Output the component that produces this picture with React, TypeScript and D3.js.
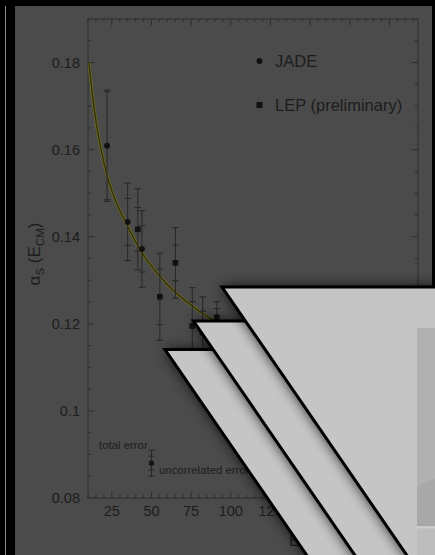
import React from "react";
import * as d3 from "d3";

// JADE measurements (circles)
const jadeEnergy = [22, 35, 44];
const jadeAlpha = [0.1609, 0.1434, 0.1372];
const jadeTotalErr = [0.0128, 0.0089, 0.0088];
const jadeUncorrErr = [0.0124, 0.0054, 0.0053];

// LEP preliminary measurements (squares)
const lepEnergy = [41.4, 55.3, 65.1, 75.7, 82.3, 91.2];
const lepAlpha = [0.1417, 0.1262, 0.134, 0.1195, 0.118, 0.1215];
const lepTotalErr = [0.0093, 0.01, 0.0081, 0.0088, 0.0082, 0.0036];
const lepUncorrErr = [0.005, 0.0064, 0.0041, 0.0056, 0.0049, 0.002];

// QCD running-coupling curve
const curveEnergy = [10.6, 13, 15.5, 18.2, 22, 26.4, 34.6, 43.4, 54.8, 64.8, 74.3, 85, 95];
const curveAlpha = [0.18, 0.172, 0.1655, 0.1601, 0.1541, 0.1492, 0.1427, 0.1367, 0.1311, 0.1273, 0.1245, 0.1217, 0.1197];

// Error-legend example point
const sampleEnergy = [50];
const sampleAlpha = [0.088];
const sampleTotalErr = [0.003];
const sampleUncorrErr = [0.0016];

const xTicks = [25, 50, 75, 100, 125, 150, 175, 200];
const yTicks = [0.08, 0.1, 0.12, 0.14, 0.16, 0.18];
const yTickLabels = ["0.08", "0.1", "0.12", "0.14", "0.16", "0.18"];

const W = 435;
const H = 555;
const FONT = "'Liberation Sans', Arial, Helvetica, sans-serif";
const INK = "#1d1d1d";
const AXIS = "#2f2f2f";
const CARD_SLOPE = 0.689;

const x = d3.scaleLinear().domain([10, 218]).range([88, 418]);
const y = d3.scaleLinear().domain([0.08, 0.19]).range([498, 19]);

function ErrorBar({ e, a, tot, unc }: { e: number; a: number; tot: number; unc: number }) {
  const cx = x(e);
  const cap = 3.3;
  return (
    <g stroke="#262626" strokeWidth={1}>
      <line x1={cx} x2={cx} y1={y(a - tot)} y2={y(a + tot)} />
      {[a - tot, a + tot, a - unc, a + unc].map((v, i) => (
        <line key={i} x1={cx - cap} x2={cx + cap} y1={y(v)} y2={y(v)} />
      ))}
    </g>
  );
}

function Card({ x0, y0 }: { x0: number; y0: number }) {
  const bottom = 800;
  const pts = `${x0},${y0} 700,${y0} 900,${bottom} ${x0 + (bottom - y0) * CARD_SLOPE},${bottom}`;
  return (
    <g>
      <polygon points={pts} fill="#000" opacity={0.9} filter="url(#cardShadow)" />
      <polygon points={pts} fill="#c5c5c5" stroke="#000" strokeWidth={3} strokeLinejoin="miter" />
    </g>
  );
}

export default function App() {
  const curve = d3
    .line<number>()
    .x((_, i) => x(curveEnergy[i]))
    .y((d) => y(d))
    .curve(d3.curveMonotoneX)(curveAlpha) as string;

  const minorX = d3.range(10, 219, 5);
  const minorY = d3.range(0.08, 0.1901, 0.005);

  return (
    <div style={{ position: "absolute", left: 0, top: 0 }}>
      <svg width={W} height={H} style={{ display: "block", fontFamily: FONT }}>
        <defs>
          <filter id="cardShadow" x="-30%" y="-30%" width="160%" height="160%">
            <feGaussianBlur stdDeviation={7} />
          </filter>
          <clipPath id="plotClip">
            <rect x={88} y={19} width={330} height={479} />
          </clipPath>
        </defs>

        {/* backdrop */}
        <rect x={0} y={0} width={W} height={H} fill="#000" />
        <line x1={5.5} x2={5.5} y1={6} y2={H} stroke="#8a8a8a" strokeWidth={1} />
        <rect x={15} y={6} width={417} height={H - 6} fill="#4b4b4b" />

        {/* frame */}
        <rect x={88} y={19} width={330} height={479} fill="none" stroke={AXIS} strokeWidth={1} />

        {/* minor + major ticks, inward on all four sides */}
        <g stroke={AXIS} strokeWidth={1}>
          {minorX.map((v) => {
            const major = v % 25 === 0;
            const len = major ? 6.5 : 3.2;
            return (
              <g key={`mx${v}`}>
                <line x1={x(v)} x2={x(v)} y1={498} y2={498 - len} />
                <line x1={x(v)} x2={x(v)} y1={19} y2={19 + len} />
              </g>
            );
          })}
          {minorY.map((v, i) => {
            const major = i % 4 === 0;
            const len = major ? 6.5 : 3.2;
            return (
              <g key={`my${i}`}>
                <line x1={88} x2={88 + len} y1={y(v)} y2={y(v)} />
                <line x1={418} x2={418 - len} y1={y(v)} y2={y(v)} />
              </g>
            );
          })}
        </g>

        {/* tick labels */}
        <g fill={INK} fontSize={14.5}>
          {yTicks.map((v, i) => (
            <text key={`yl${i}`} x={80} y={y(v) + 5} textAnchor="end">
              {yTickLabels[i]}
            </text>
          ))}
          {xTicks.map((v) => (
            <text key={`xl${v}`} x={x(v)} y={515.5} textAnchor="middle">
              {v}
            </text>
          ))}
        </g>

        {/* axis titles */}
        <text transform="translate(40,254) rotate(-90)" textAnchor="middle" fill={INK} fontSize={17}>
          α<tspan fontSize={11.5} dy={4}>S</tspan>
          <tspan dy={-4}> (E</tspan>
          <tspan fontSize={11.5} dy={4}>CM</tspan>
          <tspan dy={-4}>)</tspan>
        </text>
        <text x={289} y={546} fill={INK} fontSize={16}>
          E<tspan fontSize={11} dy={4}>CM</tspan>
          <tspan dy={-4}> [GeV]</tspan>
        </text>

        {/* running coupling */}
        <g clipPath="url(#plotClip)" fill="none">
          <path d={curve} stroke="#6b6820" strokeWidth={3} />
          <path d={curve} stroke="#302e0c" strokeWidth={1.3} />
        </g>

        {/* data */}
        {jadeEnergy.map((e, i) => (
          <g key={`j${i}`}>
            <ErrorBar e={e} a={jadeAlpha[i]} tot={jadeTotalErr[i]} unc={jadeUncorrErr[i]} />
            <circle cx={x(e)} cy={y(jadeAlpha[i])} r={2.9} fill="#111" />
          </g>
        ))}
        {lepEnergy.map((e, i) => (
          <g key={`l${i}`}>
            <ErrorBar e={e} a={lepAlpha[i]} tot={lepTotalErr[i]} unc={lepUncorrErr[i]} />
            <rect x={x(e) - 2.8} y={y(lepAlpha[i]) - 2.8} width={5.6} height={5.6} fill="#111" />
          </g>
        ))}

        {/* error legend */}
        {sampleEnergy.map((e, i) => (
          <g key={`s${i}`}>
            <ErrorBar e={e} a={sampleAlpha[i]} tot={sampleTotalErr[i]} unc={sampleUncorrErr[i]} />
            <rect x={x(e) - 2.3} y={y(sampleAlpha[i]) - 2.3} width={4.6} height={4.6} fill="#111" />
          </g>
        ))}
        <text x={99} y={449} fill={INK} fontSize={11.4}>total error</text>
        <text x={159} y={473.5} fill={INK} fontSize={11.4}>uncorrelated error</text>

        {/* series legend */}
        <circle cx={259.5} cy={61} r={3} fill="#111" />
        <text x={275} y={67} fill={INK} fontSize={16.5}>JADE</text>
        <rect x={256.5} y={102} width={6} height={6} fill="#111" />
        <text x={275} y={111} fill={INK} fontSize={16.5}>LEP (preliminary)</text>

        {/* stacked slide cards, back to front */}
        <Card x0={165} y0={349.5} />
        <Card x0={193.5} y0={321} />
        <Card x0={222} y0={287} />

        {/* thumbnail panel on the front card */}
        <rect x={417} y={328} width={30} height={198} fill="#b1b1b1" />
        <path d="M417,487 Q425,481 435,479 L447,479 L447,526 L417,526 Z" fill="#a8a8a8" />
        <line x1={417} x2={447} y1={527.5} y2={527.5} stroke="#d0d0d0" strokeWidth={1.5} />
        <rect x={417} y={528.5} width={30} height={30} fill="#bdbdbd" />
      </svg>
    </div>
  );
}
